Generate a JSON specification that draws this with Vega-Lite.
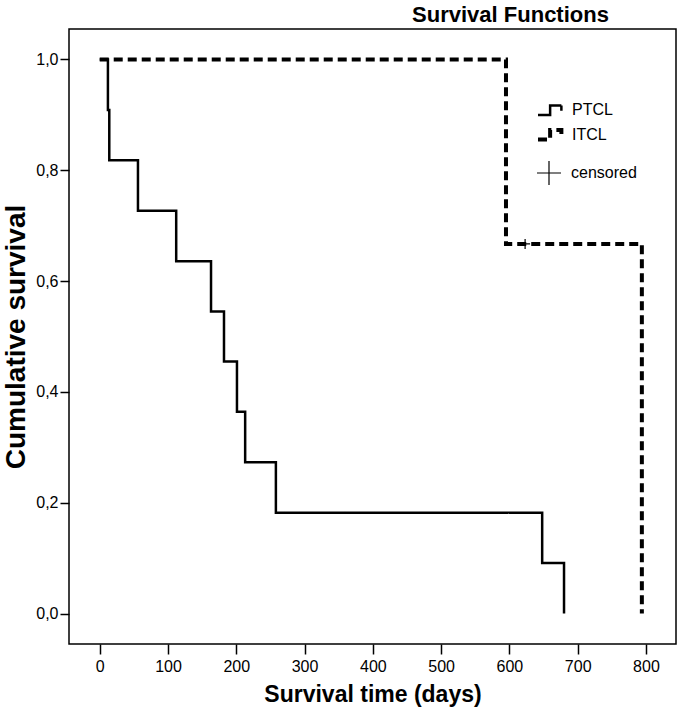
{
  "$schema": "https://vega.github.io/schema/vega-lite/v6.json",
  "autosize": "none",
  "width": 607,
  "height": 615,
  "padding": {"left": 69, "top": 29, "right": 1, "bottom": 70},
  "background": "white",
  "title": {"text": "Survival Functions", "font": "Liberation Sans", "fontSize": 22, "fontWeight": "bold", "color": "black", "anchor": "middle", "dx": 138, "offset": 2},
  "config": {
    "view": {"stroke": "black", "strokeWidth": 1.5},
    "axis": {"grid": false, "domain": false, "tickColor": "black", "tickWidth": 1.5, "labelColor": "black", "labelFont": "Liberation Sans", "labelFontSize": 16, "titleFont": "Liberation Sans", "titleFontWeight": "bold", "titleColor": "black"},
    "legend": {"labelFont": "Liberation Sans", "labelFontSize": 16, "labelColor": "black", "padding": 0, "offset": 0}
  },
  "datasets": {
    "curves": [
      {"group": "PTCL", "time": 0, "survival": 1.0},
      {"group": "PTCL", "time": 12, "survival": 0.909},
      {"group": "PTCL", "time": 14, "survival": 0.818},
      {"group": "PTCL", "time": 56, "survival": 0.727},
      {"group": "PTCL", "time": 112, "survival": 0.636},
      {"group": "PTCL", "time": 163, "survival": 0.545},
      {"group": "PTCL", "time": 182, "survival": 0.455},
      {"group": "PTCL", "time": 201, "survival": 0.364},
      {"group": "PTCL", "time": 213, "survival": 0.273},
      {"group": "PTCL", "time": 258, "survival": 0.182},
      {"group": "PTCL", "time": 648, "survival": 0.091},
      {"group": "PTCL", "time": 680, "survival": 0.0},
      {"group": "ITCL", "time": 0, "survival": 1.0},
      {"group": "ITCL", "time": 595, "survival": 0.667},
      {"group": "ITCL", "time": 794, "survival": 0.0}
    ],
    "censor": [
      {"label": "censored", "time": 623, "survival": 0.667}
    ]
  },
  "layer": [
    {
      "data": {"name": "curves"},
      "mark": {"type": "line", "interpolate": "step-after", "color": "black", "strokeCap": "butt"},
      "encoding": {
        "x": {"field": "time", "type": "quantitative", "scale": {"domain": [-45, 844], "nice": false, "zero": false},
          "axis": {"values": [0, 100, 200, 300, 400, 500, 600, 700, 800], "tickSize": 10, "labelPadding": 4, "title": "Survival time (days)", "titleFontSize": 23, "titlePadding": 9}},
        "y": {"field": "survival", "type": "quantitative", "scale": {"domain": [-0.055, 1.055], "nice": false, "zero": false},
          "axis": {"values": [0, 0.2, 0.4, 0.6, 0.8, 1.0], "tickSize": 9, "labelPadding": 2, "labelExpr": "replace(format(datum.value, '.1f'), '.', ',')", "title": "Cumulative survival", "titleFontSize": 28, "titlePadding": 5}},
        "strokeDash": {"field": "group", "type": "nominal", "scale": {"domain": ["PTCL", "ITCL"], "range": [[1, 0], [9, 5]]},
          "legend": {"title": null, "orient": "none", "legendX": 467, "legendY": 67, "symbolType": "M-1,0.4H-0.03V-0.37H0.87V0.05", "symbolSize": 625, "symbolStrokeColor": "black", "symbolFillColor": "transparent", "labelOffset": 7, "rowPadding": -11}},
        "strokeWidth": {"field": "group", "type": "nominal", "scale": {"domain": ["PTCL", "ITCL"], "range": [2.5, 4]}}
      }
    },
    {
      "data": {"name": "censor"},
      "mark": {"type": "point", "filled": false, "color": "black", "opacity": 1, "strokeWidth": 1.2, "size": 100},
      "encoding": {
        "x": {"field": "time", "type": "quantitative"},
        "y": {"field": "survival", "type": "quantitative"},
        "shape": {"field": "label", "type": "nominal", "scale": {"range": ["M-1,0H1M0,-1V1"]},
          "legend": {"title": null, "orient": "none", "legendX": 467, "legendY": 131, "symbolSize": 576, "symbolStrokeColor": "black", "symbolStrokeWidth": 1.2, "symbolOpacity": 1, "labelOffset": 9,
            "encode": {"symbols": {"update": {"shape": {"value": "M-1,0H1M0,-0.7V0.7"}, "opacity": {"value": 1}}}}}}
      }
    }
  ]
}
